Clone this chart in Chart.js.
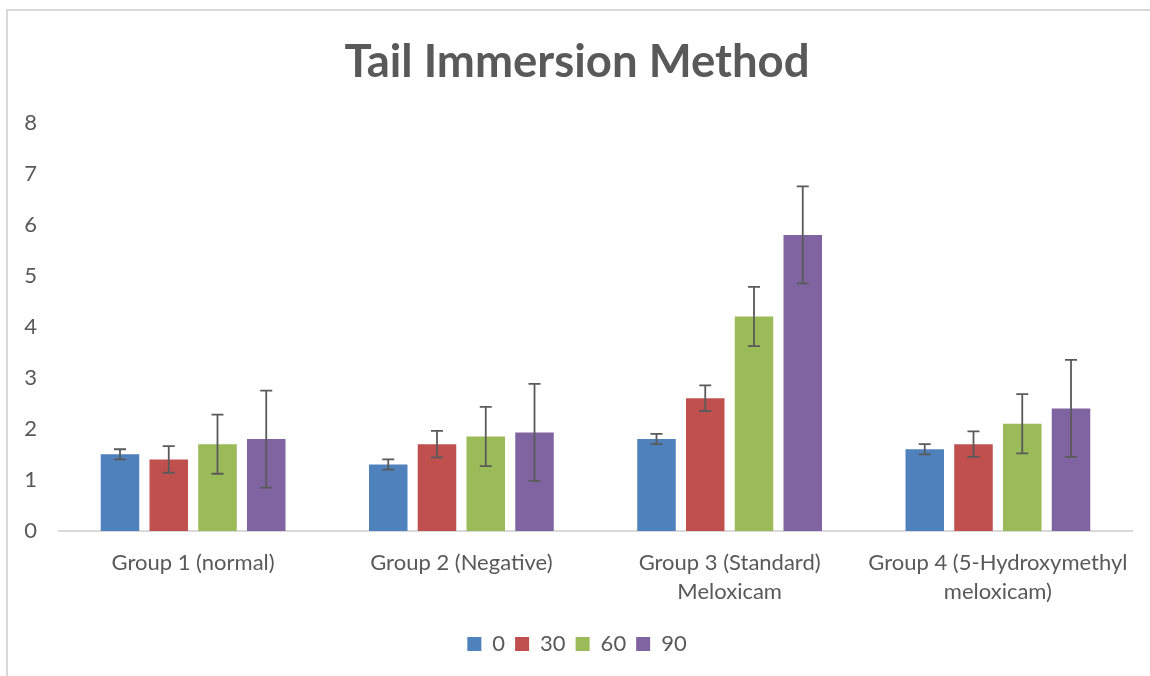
<!DOCTYPE html>
<html>
<head>
<meta charset="utf-8">
<script src="https://cdn.jsdelivr.net/npm/chart.js@4.4.1/dist/chart.umd.min.js"></script>
<style>
  html, body { margin: 0; padding: 0; background: #ffffff; }
  #wrap { position: relative; width: 1150px; height: 676px; }
</style>
</head>
<body>
<div id="wrap"><canvas id="c" width="1150" height="676"></canvas></div>
<script>
const categories = [
  ["Group 1 (normal)"],
  ["Group 2 (Negative)"],
  ["Group 3 (Standard)", "Meloxicam"],
  ["Group 4 (5-Hydroxymethyl", "meloxicam)"]
];
const seriesNames = ["0", "30", "60", "90"];
const values0  = [1.5, 1.3, 1.8, 1.6];
const values30 = [1.4, 1.7, 2.6, 1.7];
const values60 = [1.7, 1.85, 4.2, 2.1];
const values90 = [1.8, 1.93, 5.8, 2.4];
const errors0  = [0.1, 0.1, 0.1, 0.1];
const errors30 = [0.26, 0.26, 0.25, 0.25];
const errors60 = [0.58, 0.58, 0.58, 0.58];
const errors90 = [0.95, 0.95, 0.95, 0.95];
const yTicks = [0, 1, 2, 3, 4, 5, 6, 7, 8];
const colors = ["#4f81bd", "#c0504d", "#9bbb59", "#8064a2"];

const allValues = [values0, values30, values60, values90];
const allErrors = [errors0, errors30, errors60, errors90];

const FONT = "Lato, 'Open Sans', sans-serif";
const TEXT = "#595959";

const frame = {
  id: "frame",
  beforeDraw(chart) {
    const ctx = chart.ctx;
    ctx.save();
    ctx.fillStyle = "#ffffff";
    ctx.fillRect(0, 0, chart.width, chart.height);
    ctx.strokeStyle = "#d9d9d9";
    ctx.lineWidth = 2;
    ctx.beginPath();
    ctx.moveTo(7, chart.height);
    ctx.lineTo(7, 10);
    ctx.lineTo(chart.width, 10);
    ctx.stroke();
    ctx.restore();
  }
};

const errorBars = {
  id: "errorBars",
  afterDatasetsDraw(chart) {
    const ctx = chart.ctx;
    const y = chart.scales.y;
    ctx.save();
    ctx.strokeStyle = "#5a5a5a";
    ctx.lineWidth = 1.8;
    chart.data.datasets.forEach((ds, di) => {
      const meta = chart.getDatasetMeta(di);
      if (meta.hidden) return;
      meta.data.forEach((bar, i) => {
        const v = ds.data[i];
        const e = ds.errors[i];
        const yt = y.getPixelForValue(v + e);
        const yb = y.getPixelForValue(v - e);
        const x = bar.x;
        const cap = 6;
        ctx.beginPath();
        ctx.moveTo(x, yt); ctx.lineTo(x, yb);
        ctx.moveTo(x - cap, yt); ctx.lineTo(x + cap, yt);
        ctx.moveTo(x - cap, yb); ctx.lineTo(x + cap, yb);
        ctx.stroke();
      });
    });
    ctx.restore();
  }
};

new Chart(document.getElementById("c"), {
  type: "bar",
  data: {
    labels: categories,
    datasets: seriesNames.map((name, i) => ({
      label: name,
      data: allValues[i],
      errors: allErrors[i],
      backgroundColor: colors[i],
      borderWidth: 0,
      categoryPercentage: 0.727,
      barPercentage: 0.79
    }))
  },
  options: {
    responsive: false,
    animation: false,
    devicePixelRatio: 1,
    layout: { padding: { left: 22, right: 18, top: 22, bottom: 11 } },
    plugins: {
      title: {
        display: true,
        text: "Tail Immersion Method",
        color: TEXT,
        font: { family: FONT, size: 45.5, weight: "bold" },
        padding: { top: 13, bottom: 33 }
      },
      legend: {
        position: "bottom",
        labels: {
          color: TEXT,
          font: { family: FONT, size: 22 },
          boxWidth: 14,
          boxHeight: 14,
          padding: 10
        }
      },
      tooltip: { enabled: false }
    },
    scales: {
      x: {
        afterFit(scale) { scale.paddingLeft = 0; scale.paddingRight = 0; },
        grid: { display: false, drawTicks: false },
        border: { display: true, color: "#d9d9d9", width: 2 },
        ticks: {
          color: TEXT,
          font: { family: FONT, size: 22, lineHeight: 1.32 },
          padding: 17,
          maxRotation: 0,
          autoSkip: false
        }
      },
      y: {
        min: 0,
        max: 8,
        afterBuildTicks(scale) { scale.ticks = yTicks.map(v => ({ value: v })); },
        afterFit(scale) { scale.width = 37; },
        grid: { display: false, drawTicks: false },
        border: { display: false },
        ticks: {
          color: TEXT,
          font: { family: FONT, size: 22 },
          padding: 22
        }
      }
    }
  },
  plugins: [frame, errorBars]
});
</script>
</body>
</html>
